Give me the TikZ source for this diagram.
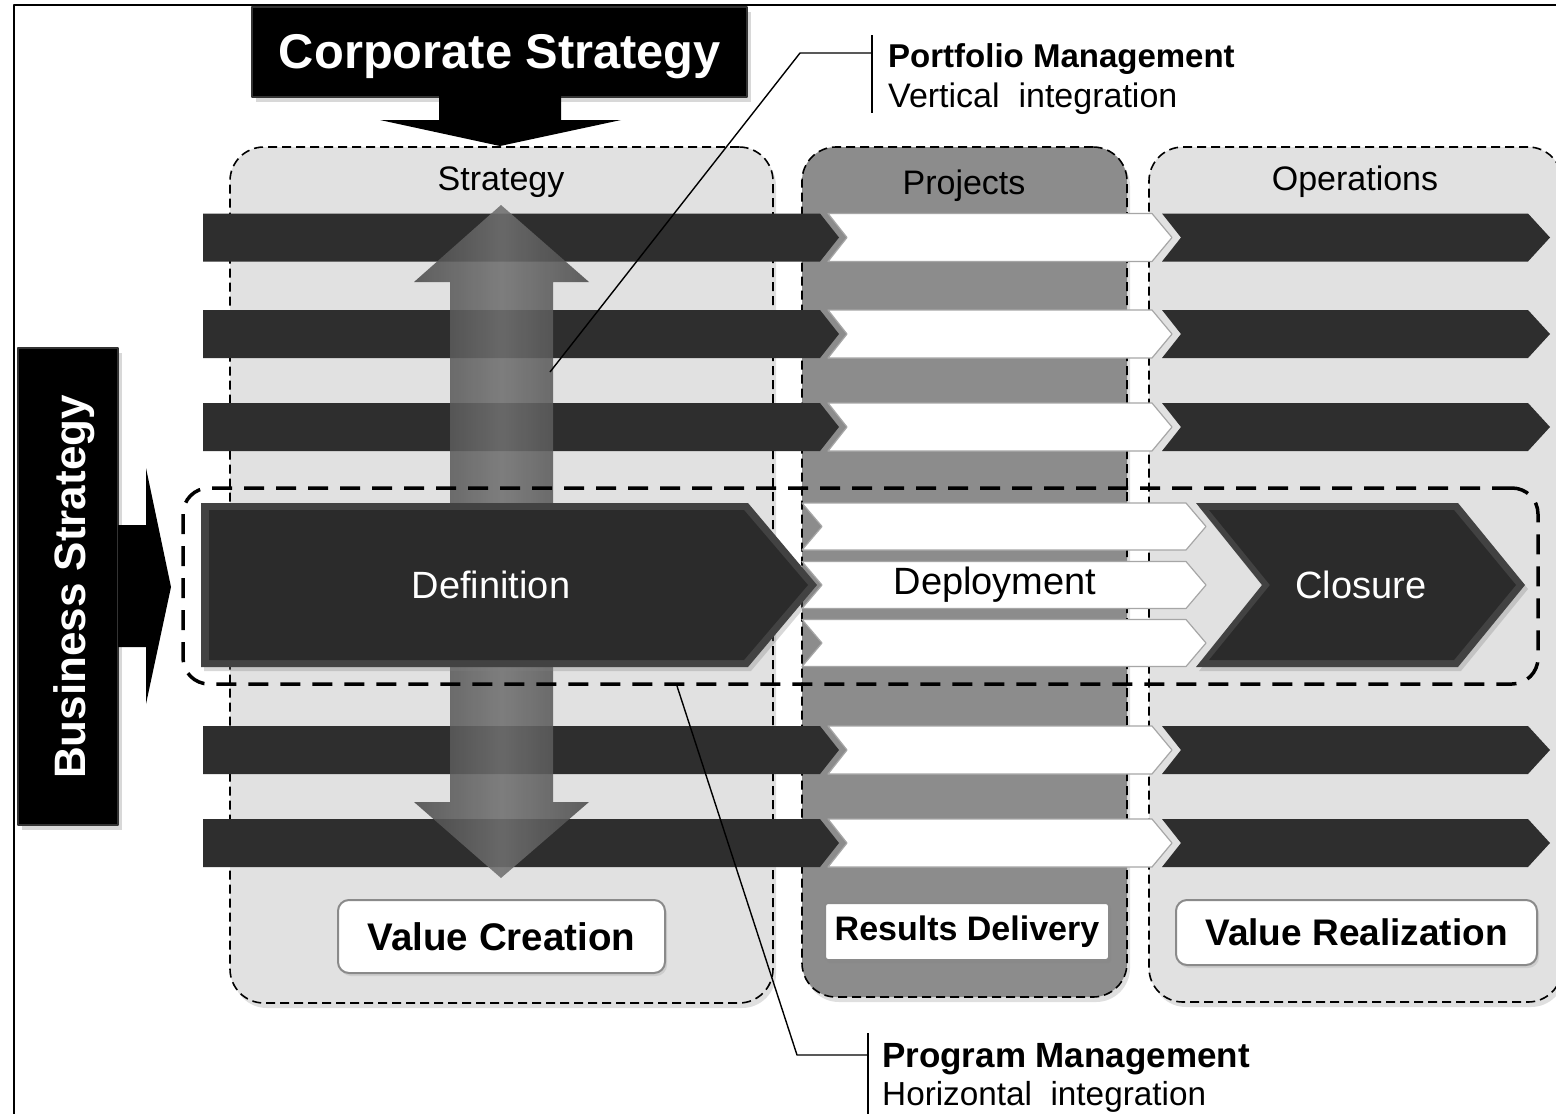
\documentclass[tikz,border=0pt]{standalone}
\usepackage{fontspec}
\setmainfont{Liberation Sans}
\usetikzlibrary{shadows}

\definecolor{bardark}{HTML}{2E2E2E}
\definecolor{panellight}{HTML}{E1E1E1}
\definecolor{paneldark}{HTML}{8C8C8C}
\definecolor{rimgray}{HTML}{8A8A8A}

\tikzset{
  panel/.style={draw, line width=1.6pt, dash pattern=on 9pt off 5pt, rounded corners=34pt,
    drop shadow={shadow xshift=3pt, shadow yshift=-5pt, opacity=0.25}},
  darkbar/.style={fill=bardark},
  whitebar/.style={fill=white, draw=black!35, line width=1.2pt},
  bevelout/.style={fill=black!74},
  bevelin/.style={fill=black!83},
  progbox/.style={draw, line width=3.5pt, dash pattern=on 20pt off 12pt, rounded corners=26pt},
  valuebox/.style={draw=rimgray, line width=2pt, fill=white, inner sep=2pt,
    drop shadow={shadow xshift=2pt, shadow yshift=-3pt, opacity=0.2}},
  blackblock/.style={fill=black, draw=black!80, line width=2pt, text=white, inner sep=0pt,
    drop shadow={shadow xshift=4pt, shadow yshift=-5pt, opacity=0.3}},
  lbl/.style={anchor=base, inner sep=0pt, font=\fontsize{34}{40}\selectfont},
  biglbl/.style={anchor=base, inner sep=0pt, font=\fontsize{38}{44}\selectfont},
  note/.style={anchor=base west, inner sep=0pt, font=\fontsize{34}{40}\selectfont},
  leader/.style={line width=1.4pt}
}

\begin{document}
\begin{tikzpicture}[x=1pt, y=-1pt, line join=round]
\useasboundingbox (0,0) rectangle (1556,1114);
\clip (0,0) rectangle (1556,1114);
\fill[white] (0,0) rectangle (1556,1114);
\draw[line width=2.5pt] (14,1114) -- (14,5) -- (1556,5);

% the three columns
\node[panel, fill=panellight, minimum width=543pt, minimum height=856pt] (strat) at (501.5,575) {};
\node[panel, fill=paneldark, minimum width=325pt, minimum height=850pt] (proj) at (964.5,572) {};
\node[panel, fill=panellight, minimum width=413pt, minimum height=855pt] (oper) at (1355.5,574.5) {};
\node[lbl] (stratlbl) at (501,190) {Strategy};
\node[lbl] (projlbl) at (964,194) {Projects};
\node[lbl] (operlbl) at (1355,190) {Operations};

% programme bands
\foreach \r in {237.5,334,427,750,843}{
  \fill[darkbar] (203,\r-24) -- (820,\r-24) -- (839,\r) -- (820,\r+24) -- (203,\r+24) -- cycle;
  \filldraw[whitebar] (828,\r-24) -- (1152,\r-24) -- (1172,\r) -- (1152,\r+24) -- (828,\r+24) -- (847,\r) -- cycle;
  \fill[darkbar] (1162,\r-24) -- (1528,\r-24) -- (1550,\r) -- (1528,\r+24) -- (1162,\r+24) -- (1181,\r) -- cycle;
}

% vertical integration arrow
\shade[left color=black!70, right color=black!70, middle color=black!56, fill opacity=0.88]
  (501,205) -- (589,282) -- (553,282) -- (553,802) -- (589,802) -- (501,878)
  -- (414,802) -- (450,802) -- (450,282) -- (414,282) -- cycle;

\node[progbox, minimum width=1355pt, minimum height=196pt] (prog) at (860.5,586) {};

% definition, deployment, closure
\fill[bevelout, drop shadow={shadow xshift=3pt, shadow yshift=-4pt, opacity=0.3}]
  (201,503) -- (748,503) -- (817,585) -- (748,667) -- (201,667) -- cycle;
\fill[bevelin] (209,510) -- (744,510) -- (808,585) -- (744,660) -- (209,660) -- cycle;
\node[lbl, text=white, font=\fontsize{38}{44}\selectfont] (defn) at (491,598) {Definition};

\foreach \r in {526.5,585,643}{
  \filldraw[whitebar] (802,\r-23.5) -- (1186,\r-23.5) -- (1206,\r) -- (1186,\r+23.5) -- (802,\r+23.5) -- (822,\r) -- cycle;
}
\node[biglbl] (deploy) at (995,594) {Deployment};

\fill[bevelout, drop shadow={shadow xshift=3pt, shadow yshift=-4pt, opacity=0.3}]
  (1196,503) -- (1458,503) -- (1525,585) -- (1458,667) -- (1196,667) -- (1262,585) -- cycle;
\fill[bevelin] (1209,510) -- (1454,510) -- (1516,585) -- (1454,660) -- (1209,660) -- (1270,585) -- cycle;
\node[lbl, text=white, font=\fontsize{38}{44}\selectfont] (closure) at (1361,598) {Closure};

% outcome boxes
\node[valuebox, rounded corners=11pt, minimum width=327pt, minimum height=73pt,
  font=\fontsize{38.5}{44}\selectfont\bfseries] (vcreate) at (501.5,936.5) {Value Creation};
\node[valuebox, rounded corners=3pt, minimum width=284pt, minimum height=57pt,
  font=\fontsize{34}{40}\selectfont\bfseries] (rdeliver) at (967,931.5) {Results Delivery};
\node[valuebox, rounded corners=11pt, minimum width=361pt, minimum height=65pt,
  font=\fontsize{37}{42}\selectfont\bfseries] (vreal) at (1356.5,932.5) {Value Realization};

% strategy inputs
\node[blackblock, minimum width=495pt, minimum height=90pt] (corp) at (499.5,52) {};
\node[anchor=base, inner sep=0pt, text=white, font=\fontsize{48.8}{54}\selectfont\bfseries] (corplbl) at (500,68) {Corporate Strategy};
\fill (439,96) -- (561,96) -- (561,120) -- (621,120) -- (500,146) -- (380,120) -- (439,120) -- cycle;

\node[blackblock, minimum width=100pt, minimum height=477pt] (bus) at (68,586.5) {};
\node[anchor=base, inner sep=0pt, rotate=90, text=white, font=\fontsize{44}{50}\selectfont\bfseries] (buslbl) at (85,587) {Business Strategy};
\fill (118,525) -- (146,525) -- (146,468) -- (171,587) -- (146,704) -- (146,647) -- (118,647) -- cycle;

% call-outs
\coordinate (pftip) at (550,372);
\coordinate (pfknee) at (800,53);
\coordinate (pfbar) at (872,53);
\draw[leader] (pftip) -- (pfknee) -- (pfbar);
\draw[leader] (872,35) -- (872,113);
\node[note, font=\fontsize{33}{40}\selectfont\bfseries] (pfhead) at (888,67) {Portfolio Management};
\node[note] (pfsub) at (888,107) {Vertical\ \ integration};

\coordinate (pgtip) at (677,686);
\coordinate (pgknee) at (797,1055);
\coordinate (pgbar) at (868,1055);
\draw[leader] (pgtip) -- (pgknee) -- (pgbar);
\draw[leader] (868,1033) -- (868,1114);
\node[note, font=\fontsize{35}{40}\selectfont\bfseries] (pghead) at (882,1067) {Program Management};
\node[note, font=\fontsize{33.3}{40}\selectfont] (pgsub) at (882,1105) {Horizontal\ \ integration};
\end{tikzpicture}
\end{document}
